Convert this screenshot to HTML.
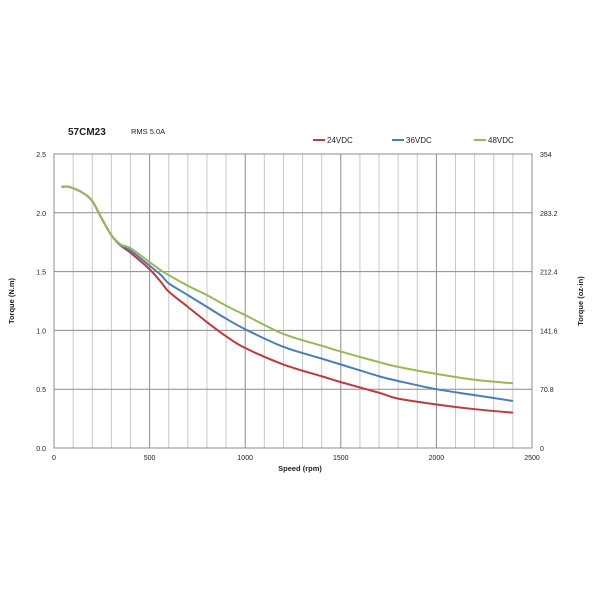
<!DOCTYPE html>
<html><head><meta charset="utf-8"><style>
body{margin:0;background:#fff;width:600px;height:600px;overflow:hidden}
svg{font-family:"Liberation Sans",sans-serif}
</style></head><body>
<svg id="c" width="600" height="600"></svg>
<script>
const speeds=[40,80,150,200,250,300,350,400,500,560,600,700,800,900,1000,1200,1400,1500,1700,1800,2000,2200,2400];
const red=[2.22,2.22,2.17,2.1,1.95,1.81,1.72,1.66,1.52,1.41,1.33,1.2,1.07,0.95,0.85,0.71,0.61,0.56,0.47,0.42,0.37,0.33,0.30];
const blue=[2.22,2.22,2.17,2.1,1.95,1.81,1.72,1.68,1.55,1.47,1.40,1.30,1.2,1.1,1.01,0.86,0.76,0.71,0.61,0.57,0.50,0.45,0.40];
const green=[2.22,2.22,2.17,2.1,1.95,1.81,1.73,1.70,1.58,1.51,1.47,1.38,1.30,1.21,1.13,0.97,0.87,0.82,0.73,0.69,0.63,0.58,0.55];
const yTicks=["0.0","0.5","1.0","1.5","2.0","2.5"];
const y2Ticks=["0","70.8","141.6","212.4","283.2","354"];
const xTicks=[0,500,1000,1500,2000,2500];
const series=[["24VDC",red,"#c0393b",313],["36VDC",blue,"#4a7ebb",392],["48VDC",green,"#98b954",474]];
const L=54,R=532,T=154,B=448;
const X=v=>L+(R-L)*v/2500, Y=v=>B-(B-T)*v/2.5;
const s=document.getElementById('c');const NS="http://www.w3.org/2000/svg";
function el(t,a,txt){const e=document.createElementNS(NS,t);for(const k in a)e.setAttribute(k,a[k]);if(txt!=null)e.textContent=txt;s.appendChild(e);return e;}
for(let r=100;r<2500;r+=100){const g=el('line',{x1:X(r),x2:X(r),y1:T,y2:B,stroke:r%500?'#c8c8c8':'#8c8c8c','stroke-width':1});
}
yTicks.forEach((t,i)=>{const v=i*0.5;const g=el('line',{x1:L,x2:R,y1:Y(v),y2:Y(v),stroke:'#8c8c8c','stroke-width':1});

const a=el('text',{x:L-8,y:Y(v)+3,'font-size':7,'text-anchor':'end',fill:'#222'},t);

const b=el('text',{x:R+8,y:Y(v)+3,'font-size':7,fill:'#222'},y2Ticks[i]);
});
xTicks.forEach(t=>{const a=el('text',{x:X(t),y:B+12,'font-size':7,'text-anchor':'middle',fill:'#222'},t);
});
const ax=el('rect',{x:L,y:T,width:R-L,height:B-T,fill:'none',stroke:'#8c8c8c'});

function path(ys){const p=speeds.map((x,i)=>[X(x),Y(ys[i])]);let d=`M${p[0][0]},${p[0][1]}`;
for(let i=0;i<p.length-1;i++){const p0=p[Math.max(0,i-1)],p1=p[i],p2=p[i+1],p3=p[Math.min(p.length-1,i+2)];
d+=` C${p1[0]+(p2[0]-p0[0])/6},${p1[1]+(p2[1]-p0[1])/6} ${p2[0]-(p3[0]-p1[0])/6},${p2[1]-(p3[1]-p1[1])/6} ${p2[0]},${p2[1]}`;}return d;}
series.forEach(([n,ys,c])=>{const e=el('path',{d:path(ys),fill:'none',stroke:c,'stroke-width':2});
});
series.forEach(([n,ys,c,lx])=>{const l=el('line',{x1:lx,x2:lx+12,y1:140,y2:140,stroke:c,'stroke-width':2});

const t=el('text',{x:lx+14,y:143,'font-size':8,fill:'#222'},n);
});
let t;
t=el('text',{x:68,y:135,'font-size':10,'font-weight':'bold',fill:'#222'},'57CM23');
t=el('text',{x:131,y:134,'font-size':7.5,fill:'#222'},'RMS 5.0A');
t=el('text',{x:300,y:471,'font-size':7.5,'font-weight':'bold','text-anchor':'middle',fill:'#222'},'Speed (rpm)');
t=el('text',{x:14,y:301,'font-size':7.5,'font-weight':'bold','text-anchor':'middle',fill:'#222',transform:'rotate(-90 14 301)'},'Torque (N.m)');
t=el('text',{x:583,y:301,'font-size':7.5,'font-weight':'bold','text-anchor':'middle',fill:'#222',transform:'rotate(-90 583 301)'},'Torque (oz-in)');
</script>
</body></html>
